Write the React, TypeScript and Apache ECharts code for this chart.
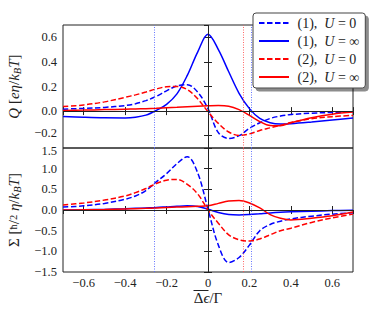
import React, { useEffect, useRef } from 'react';
import * as echarts from 'echarts';

// Shared abscissa (Δϵ/Γ)
const X = [-0.7, -0.6, -0.5, -0.4, -0.35, -0.3, -0.25, -0.2, -0.15, -0.1, -0.05, 0, 0.05, 0.1, 0.15, 0.2, 0.25, 0.3, 0.35, 0.4, 0.5, 0.6, 0.7];

// Top panel: Q [eη/k_B T]
const Q_1_U0 = [0.016, 0.022, 0.03, 0.045, 0.06, 0.085, 0.12, 0.165, 0.205, 0.215, 0.155, 0.02, -0.175, -0.222, -0.2, -0.14, -0.095, -0.06, -0.04, -0.028, -0.017, -0.011, -0.008];
const Q_1_UINF = [-0.043, -0.05, -0.055, -0.056, -0.05, -0.033, 0.005, 0.055, 0.14, 0.29, 0.48, 0.625, 0.5, 0.32, 0.145, 0.02, -0.06, -0.095, -0.105, -0.102, -0.088, -0.072, -0.057];
const Q_2_U0 = [0.037, 0.05, 0.075, 0.112, 0.132, 0.155, 0.18, 0.198, 0.2, 0.175, 0.1, -0.005, -0.1, -0.17, -0.198, -0.185, -0.157, -0.136, -0.115, -0.092, -0.062, -0.045, -0.035];
const Q_2_UINF = [0.005, 0.008, 0.012, 0.016, 0.018, 0.02, 0.023, 0.027, 0.031, 0.036, 0.04, 0.043, 0.045, 0.04, 0.012, -0.035, -0.085, -0.118, -0.12, -0.095, -0.054, -0.025, -0.008];

// Bottom panel: Σ [ħ/2 η/k_B T]
const S_1_U0 = [0.07, 0.1, 0.16, 0.26, 0.34, 0.47, 0.68, 0.88, 1.12, 1.29, 0.9, 0.02, -0.85, -1.27, -1.15, -0.85, -0.5, -0.35, -0.27, -0.215, -0.15, -0.1, -0.064];
const S_1_UINF = [0.0, 0.005, 0.015, 0.03, 0.04, 0.05, 0.06, 0.075, 0.09, 0.1, 0.085, 0.02, -0.06, -0.11, -0.12, -0.11, -0.09, -0.07, -0.055, -0.045, -0.03, -0.015, -0.005];
const S_2_U0 = [0.12, 0.17, 0.24, 0.34, 0.42, 0.52, 0.64, 0.72, 0.74, 0.62, 0.39, 0.0, -0.32, -0.6, -0.72, -0.75, -0.7, -0.6, -0.5, -0.44, -0.3, -0.19, -0.1];
const S_2_UINF = [0.0, 0.005, 0.012, 0.025, 0.032, 0.04, 0.05, 0.06, 0.07, 0.08, 0.09, 0.1, 0.16, 0.22, 0.23, 0.17, 0.05, -0.11, -0.2, -0.24, -0.2, -0.14, -0.05];

const NAMES = ['(1), U = 0', '(1), U = ∞', '(2), U = 0', '(2), U = ∞'];
const LEGEND_RICH_TEXT: Record<string, string> = {
  '(1), U = 0': '{n| (1),  }{i|U}{n| = 0}',
  '(1), U = ∞': '{n| (1),  }{i|U}{n| = ∞}',
  '(2), U = 0': '{n| (2),  }{i|U}{n| = 0}',
  '(2), U = ∞': '{n| (2),  }{i|U}{n| = ∞}',
};

const VLINES_BLUE = [-0.262, 0.212];
const VLINES_RED = [0.166];

const FONT = '"Liberation Serif", "DejaVu Serif", serif';
const BLUE = '#0000ff';
const RED = '#ff0000';
const INK = '#222222';

const num = (v: number, zero: string) => {
  if (Math.abs(v) < 1e-9) return zero;
  return (v < 0 ? '\u2212' : '') + Math.abs(v).toFixed(1);
};
const fmtX = (v: number) => num(v, '0');
// top panel: nudge the lowest label up a little (it sits next to the lower panel's top label)
const fmtYTop = (v: number) => (Math.abs(v + 0.2) < 1e-9 ? '{u|' + num(v, '0.0') + '}' : num(v, '0.0'));
// bottom panel: nudge the top label down a little
const fmtYBot = (v: number) => (Math.abs(v - 1.5) < 1e-9 ? '{d|' + num(v, '0.0') + '}' : num(v, '0.0'));

const zip = (vals: number[]) => X.map((x, i) => [x, vals[i]]);

export default function App() {
  const ref = useRef<HTMLDivElement>(null);
  useEffect(() => {
    if (!ref.current) return;
    const chart = echarts.init(ref.current, undefined, { renderer: 'svg' });

    const tick = { inside: true, length: 4, lineStyle: { color: INK, width: 1 } };
    const labelStyle = { fontFamily: FONT, fontSize: 12.5, lineHeight: 12, color: INK };
    const labelRich = {
      u: { fontFamily: FONT, fontSize: 12.5, lineHeight: 12, color: INK, padding: [0, 0, 6, 0] },
      d: { fontFamily: FONT, fontSize: 12.5, lineHeight: 12, color: INK, padding: [6, 0, 0, 0] },
    };
    const richName = {
      n: { fontFamily: FONT, fontSize: 15, color: INK, lineHeight: 19 },
      i: { fontFamily: FONT, fontSize: 15, fontStyle: 'italic', color: INK, lineHeight: 19 },
      s: { fontFamily: FONT, fontSize: 10.5, fontStyle: 'italic', color: INK, lineHeight: 19, verticalAlign: 'bottom' },
      f: { fontFamily: FONT, fontSize: 10.5, color: INK, lineHeight: 19 },
    };

    const xAxisBase = (grid: number, pos: string, labels: boolean) => ({
      type: 'value', gridIndex: grid, position: pos, min: -0.7, max: 0.7, splitNumber: 7,
      axisLine: { show: false }, splitLine: { show: false }, axisTick: tick,
      axisLabel: labels
        ? { show: true, formatter: fmtX, showMinLabel: false, showMaxLabel: false, margin: 5, ...labelStyle }
        : { show: false },
    });

    const vlineData = [
      { xAxis: 0, lineStyle: { color: INK, width: 1, type: 'solid' } },
      { yAxis: 0, lineStyle: { color: INK, width: 1, type: 'solid' } },
      ...VLINES_BLUE.map((v) => ({ xAxis: v, lineStyle: { color: '#5566ff', width: 0.9, type: [1, 1.5] } })),
      ...VLINES_RED.map((v) => ({ xAxis: v, lineStyle: { color: '#ff5555', width: 0.9, type: [1, 1.5] } })),
    ];

    const mk = (name: string, vals: number[], color: string, dashed: boolean, grid: number, withMarks: boolean) => ({
      type: 'line', name, xAxisIndex: grid * 2, yAxisIndex: grid * 2, data: zip(vals),
      showSymbol: false, symbol: 'none', smooth: 0.35, silent: true,
      lineStyle: { color, width: 1.5, type: dashed ? [5.5, 2.5] : 'solid' },
      itemStyle: { color },
      markLine: withMarks
        ? { silent: true, symbol: ['none', 'none'], label: { show: false }, data: vlineData, animation: false }
        : undefined,
    });

    const option: any = {
      animation: false,
      backgroundColor: '#ffffff',
      grid: [
        { left: 63, top: 25, width: 290, height: 123, show: true, borderColor: INK, borderWidth: 1, containLabel: false, outerBoundsMode: 'none' },
        { left: 63, top: 148, width: 290, height: 124, show: true, borderColor: INK, borderWidth: 1, containLabel: false, outerBoundsMode: 'none' },
      ],
      xAxis: [
        xAxisBase(0, 'bottom', false),
        xAxisBase(0, 'top', false),
        xAxisBase(1, 'bottom', true),
        xAxisBase(1, 'top', false),
      ],
      yAxis: [
        {
          type: 'value', gridIndex: 0, position: 'left', min: -0.3, max: 0.7, splitNumber: 5,
          axisLine: { show: false }, splitLine: { show: false }, axisTick: tick,
          axisLabel: { formatter: fmtYTop, showMinLabel: false, showMaxLabel: false, margin: 6, ...labelStyle, rich: labelRich },
          name: '{i|Q} {n|[}{i|eη}{n|/}{i|k}{s|B}{i|T}{n|]}',
          nameLocation: 'middle', nameRotate: 90, nameGap: 29,
          nameTextStyle: { fontFamily: FONT, fontSize: 15, color: INK, rich: richName },
        },
        {
          type: 'value', gridIndex: 0, position: 'right', min: -0.3, max: 0.7, splitNumber: 5,
          axisLine: { show: false }, splitLine: { show: false }, axisTick: tick, axisLabel: { show: false },
        },
        {
          type: 'value', gridIndex: 1, position: 'left', min: -1.5, max: 1.5, interval: 0.5,
          axisLine: { show: false }, splitLine: { show: false }, axisTick: tick,
          axisLabel: { formatter: fmtYBot, margin: 6, ...labelStyle, rich: labelRich },
          name: '{n|Σ [}{f|ħ}{n|/}{f|2}{i| η}{n|/}{i|k}{s|B}{i|T}{n|]}',
          nameLocation: 'middle', nameRotate: 90, nameGap: 29,
          nameTextStyle: { fontFamily: FONT, fontSize: 15, color: INK, rich: richName },
        },
        {
          type: 'value', gridIndex: 1, position: 'right', min: -1.5, max: 1.5, interval: 0.5,
          axisLine: { show: false }, splitLine: { show: false }, axisTick: tick, axisLabel: { show: false },
        },
      ],
      legend: {
        data: NAMES,
        orient: 'vertical',
        left: 253,
        top: 13,
        itemWidth: 30,
        itemHeight: 14,
        itemGap: 4,
        padding: [3, 6, 4, 5],
        backgroundColor: '#ffffff',
        borderColor: '#444444',
        borderWidth: 1,
        borderRadius: 3,
        shadowColor: 'rgba(0,0,0,0.45)',
        shadowBlur: 0,
        shadowOffsetX: 3,
        shadowOffsetY: 3,
        selectedMode: false,
        itemStyle: { color: 'rgba(0,0,0,0)', borderColor: 'rgba(0,0,0,0)', borderWidth: 0, opacity: 0 },
        formatter: (name: string) => LEGEND_RICH_TEXT[name] || name,
        textStyle: {
          fontFamily: FONT, fontSize: 14, color: INK,
          rich: {
            n: { fontFamily: FONT, fontSize: 14, color: INK, lineHeight: 14 },
            i: { fontFamily: FONT, fontSize: 14, fontStyle: 'italic', color: INK, lineHeight: 14 },
          },
        },
      },
      graphic: [
        {
          type: 'text', x: 208, y: 298, silent: true,
          style: {
            text: '{n|Δ}{i|ϵ}{n|/Γ}',
            align: 'center', verticalAlign: 'middle',
            fontFamily: FONT, fontSize: 15, fill: INK,
            rich: {
              n: { fontFamily: FONT, fontSize: 15, fill: INK, color: INK, lineHeight: 14 },
              i: { fontFamily: FONT, fontSize: 15, fontStyle: 'italic', fill: INK, color: INK, lineHeight: 14 },
            },
          },
        },
        {
          type: 'line', silent: true,
          shape: { x1: 193.5, y1: 290.5, x2: 208.5, y2: 290.5 },
          style: { stroke: INK, lineWidth: 1 },
        },
      ],
      series: [
        mk(NAMES[0], Q_1_U0, BLUE, true, 0, true),
        mk(NAMES[1], Q_1_UINF, BLUE, false, 0, false),
        mk(NAMES[2], Q_2_U0, RED, true, 0, false),
        mk(NAMES[3], Q_2_UINF, RED, false, 0, false),
        mk(NAMES[0], S_1_U0, BLUE, true, 1, true),
        mk(NAMES[1], S_1_UINF, BLUE, false, 1, false),
        mk(NAMES[2], S_2_U0, RED, true, 1, false),
        mk(NAMES[3], S_2_UINF, RED, false, 1, false),
      ],
    };

    chart.setOption(option);
    return () => chart.dispose();
  }, []);

  return (
    <div
      ref={ref}
      style={{ position: 'absolute', left: 0, top: 0, width: 374, height: 310, background: '#fff' }}
    />
  );
}
